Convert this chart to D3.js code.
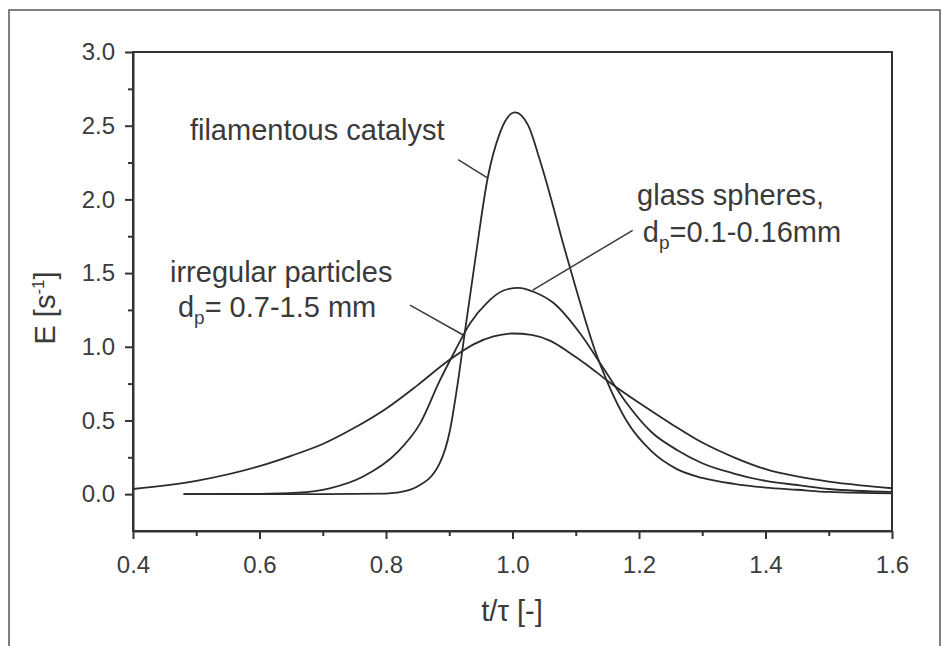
<!DOCTYPE html>
<html>
<head>
<meta charset="utf-8">
<title>residence time distribution</title>
<script src="https://cdn.jsdelivr.net/npm/d3@7/dist/d3.min.js"></script>
<style>
  body { margin: 0; background: #fff; }
  svg { display: block; font-family: "Liberation Sans", Arial, Helvetica, sans-serif; }
  .axis path, .axis line { stroke: #333; }
  .axis text { fill: #3c3c3c; font-size: 24px; }
  .curve { fill: none; stroke: #2b2b2b; stroke-width: 1.8px; }
  .lead { stroke: #3a3a3a; stroke-width: 1.5px; }
  .lbl { fill: #3a3a3a; font-size: 29px; }
</style>
</head>
<body>
<script>

// ---- data ----
var filamentT = [0.48, 0.70, 0.80, 0.817, 0.849, 0.885, 0.901, 0.914, 0.925, 0.941, 0.961, 0.98, 1.004, 1.025, 1.043, 1.06, 1.08, 1.10, 1.13, 1.15, 1.18, 1.22, 1.26, 1.30, 1.35, 1.40, 1.45, 1.50, 1.60];
var filamentE = [0, 0, 0.004, 0.01, 0.05, 0.21, 0.43, 0.77, 1.11, 1.59, 2.15, 2.45, 2.59, 2.50, 2.27, 2.02, 1.70, 1.40, 0.98, 0.76, 0.50, 0.29, 0.17, 0.11, 0.07, 0.045, 0.03, 0.015, 0.005];

var glassT = [0.48, 0.60, 0.66, 0.711, 0.764, 0.817, 0.854, 0.885, 0.91, 0.933, 0.96, 0.985, 1.009, 1.035, 1.064, 1.107, 1.143, 1.18, 1.22, 1.26, 1.30, 1.35, 1.40, 1.454, 1.50, 1.60];
var glassE = [0, 0.002, 0.01, 0.04, 0.12, 0.28, 0.48, 0.77, 0.98, 1.16, 1.30, 1.38, 1.40, 1.37, 1.30, 1.09, 0.86, 0.62, 0.42, 0.30, 0.21, 0.14, 0.09, 0.06, 0.035, 0.015];

var irregT = [0.40, 0.50, 0.60, 0.65, 0.70, 0.75, 0.80, 0.85, 0.90, 0.94, 0.97, 1.00, 1.03, 1.06, 1.09, 1.12, 1.15, 1.20, 1.25, 1.30, 1.35, 1.40, 1.45, 1.50, 1.55, 1.60];
var irregE = [0.035, 0.09, 0.19, 0.26, 0.34, 0.45, 0.58, 0.74, 0.91, 1.02, 1.07, 1.09, 1.08, 1.04, 0.96, 0.87, 0.77, 0.62, 0.48, 0.35, 0.25, 0.17, 0.12, 0.085, 0.06, 0.04];

var xMajor = [0.4, 0.6, 0.8, 1.0, 1.2, 1.4, 1.6];
var xMinor = [0.5, 0.7, 0.9, 1.1, 1.3, 1.5];
var yMajor = [0.0, 0.5, 1.0, 1.5, 2.0, 2.5, 3.0];
var yMinor = [0.25, 0.75, 1.25, 1.75, 2.25, 2.75];

// labels and leader lines, in data units
var notes = [
  {text: "filamentous catalyst", t: 0.490, e: 2.40},
  {text: "irregular particles", t: 0.4585, e: 1.44},
  {text: "d", sub: "p", rest: "= 0.7-1.5 mm", t: 0.471, e: 1.20},
  {text: "glass spheres,", t: 1.197, e: 1.96},
  {text: "d", sub: "p", rest: "=0.1-0.16mm", t: 1.206, e: 1.71}
];
var leaders = [
  [[0.914, 2.27], [0.961, 2.145]],
  [[0.838, 1.283], [0.922, 1.08]],
  [[1.190, 1.79], [1.032, 1.385]]
];

var width = 948, height = 646;
var pLeft = 133, pRight = 892, pTop = 52, pBottom = 531;

var svg = d3.select("body").append("svg")
    .attr("width", width)
    .attr("height", height);

// outer frame of the scan
svg.append("rect")
    .attr("x", 9).attr("y", 10)
    .attr("width", 931).attr("height", 700)
    .attr("fill", "none").attr("stroke", "#555").attr("stroke-width", 1.5);

var x = d3.scaleLinear().domain([0.4, 1.6]).range([pLeft, pRight]);
var y = d3.scaleLinear().domain([-0.25, 3.0]).range([pBottom, pTop]);

// box
svg.append("rect")
    .attr("x", pLeft).attr("y", pTop)
    .attr("width", pRight - pLeft).attr("height", pBottom - pTop)
    .attr("fill", "none").attr("stroke", "#333").attr("stroke-width", 2);

var fmt = d3.format(".1f");

svg.append("g").attr("class", "axis")
    .attr("transform", "translate(0," + pBottom + ")")
    .call(d3.axisBottom(x).tickValues(xMajor).tickFormat(fmt).tickSize(8).tickPadding(17).tickSizeOuter(0))
    .call(function(g) { g.select(".domain").attr("stroke-width", 2); g.selectAll("line").attr("stroke-width", 2); });

svg.append("g").attr("class", "axis")
    .attr("transform", "translate(0," + pBottom + ")")
    .call(d3.axisBottom(x).tickValues(xMinor).tickFormat("").tickSize(5).tickSizeOuter(0))
    .call(function(g) { g.select(".domain").remove(); g.selectAll("line").attr("stroke-width", 2); });

svg.append("g").attr("class", "axis")
    .attr("transform", "translate(" + pLeft + ",0)")
    .call(d3.axisLeft(y).tickValues(yMajor).tickFormat(fmt).tickSize(8).tickPadding(10).tickSizeOuter(0))
    .call(function(g) { g.select(".domain").attr("stroke-width", 2); g.selectAll("line").attr("stroke-width", 2); });

svg.append("g").attr("class", "axis")
    .attr("transform", "translate(" + pLeft + ",0)")
    .call(d3.axisLeft(y).tickValues(yMinor).tickFormat("").tickSize(5).tickSizeOuter(0))
    .call(function(g) { g.select(".domain").remove(); g.selectAll("line").attr("stroke-width", 2); });

svg.selectAll(".axis text").attr("font-family", null);

// axis titles
svg.append("text").attr("class", "lbl")
    .attr("x", 512).attr("y", 621)
    .attr("text-anchor", "middle")
    .text("t/\u03C4 [-]");

var yt = svg.append("text").attr("class", "lbl")
    .attr("transform", "translate(55,308) rotate(-90)")
    .attr("text-anchor", "middle");
yt.append("tspan").text("E [s");
yt.append("tspan").attr("font-size", "17px").attr("dy", "-11").text("-1");
yt.append("tspan").attr("dy", "11").text("]");

// curves
var line = d3.line()
    .x(function(d) { return x(d[0]); })
    .y(function(d) { return y(d[1]); })
    .curve(d3.curveMonotoneX);

[[irregT, irregE], [glassT, glassE], [filamentT, filamentE]].forEach(function(s) {
  svg.append("path")
      .attr("class", "curve")
      .attr("d", line(d3.zip(s[0], s[1])));
});

// leader lines
svg.selectAll(".lead")
    .data(leaders)
  .enter().append("line")
    .attr("class", "lead")
    .attr("x1", function(d) { return x(d[0][0]); })
    .attr("y1", function(d) { return y(d[0][1]); })
    .attr("x2", function(d) { return x(d[1][0]); })
    .attr("y2", function(d) { return y(d[1][1]); });

// labels
notes.forEach(function(n) {
  var t = svg.append("text").attr("class", "lbl")
      .attr("x", x(n.t)).attr("y", y(n.e));
  t.append("tspan").text(n.text);
  if (n.sub) {
    t.append("tspan").attr("font-size", "19px").attr("dy", "7").text(n.sub);
    t.append("tspan").attr("dy", "-7").text(n.rest);
  }
});

</script>
</body>
</html>
